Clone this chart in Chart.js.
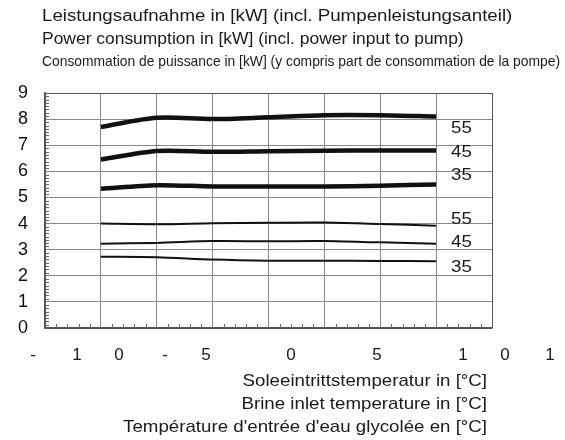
<!DOCTYPE html>
<html>
<head>
<meta charset="utf-8">
<script src="https://cdn.jsdelivr.net/npm/chart.js@4.4.0/dist/chart.umd.min.js"></script>
<style>
  html, body { margin: 0; padding: 0; background: #fff; }
  #wrap { width: 565px; height: 440px; }
</style>
</head>
<body>
<div id="wrap"><canvas id="powerChart" width="565" height="440"></canvas></div>
<script>
// brine inlet temperature [°C]
const temps = [-15, -10, -5, 0, 5, 10, 15];

// upper group (thick lines)
const upper55 = [7.70, 8.05, 8.00, 8.07, 8.15, 8.15, 8.10];
const upper45 = [6.45, 6.78, 6.75, 6.77, 6.79, 6.80, 6.80];
const upper35 = [5.33, 5.47, 5.42, 5.42, 5.42, 5.45, 5.50];

// lower group (thin lines)
const lower55 = [4.00, 3.97, 4.01, 4.03, 4.04, 3.98, 3.92];
const lower45 = [3.23, 3.26, 3.33, 3.32, 3.33, 3.28, 3.23];
const lower35 = [2.73, 2.71, 2.62, 2.58, 2.58, 2.57, 2.56];

const seriesNames = ['55', '45', '35', '55', '45', '35'];

// the x tick labels come out split into single characters in the original
const xTickChars = ['-', '1', '0', '-', '5', '0', '5', '1', '0', '1'];

const titleLines = [
    'Leistungsaufnahme in [kW] (incl. Pumpenleistungsanteil)',
    'Power consumption in [kW] (incl. power input to pump)',
    'Consommation de puissance in [kW] (y compris part de consommation de la pompe)'
];
const xTitleLines = [
    'Soleeintrittstemperatur in [°C]',
    'Brine inlet temperature in [°C]',
    'Température d\'entrée d\'eau glycolée en [°C]'
];

function toPoints(values) {
    return values.map((v, i) => ({ x: temps[i], y: v }));
}

function line(values, width) {
    return {
        data: toPoints(values),
        borderColor: '#111',
        backgroundColor: '#111',
        borderWidth: width,
        pointRadius: 0,
        tension: 0.3,
        fill: false
    };
}

const FONT = '"Liberation Sans", Arial, sans-serif';
const STRETCH = 1.1; // the original lettering is a bit wide

// draws text stretched horizontally, x is the left or right anchor
function wideText(c, text, x, y, align, sx) {
    const w = c.measureText(text).width * sx;
    const left = align === 'right' ? x - w : x;
    c.save();
    c.textAlign = 'left';
    c.translate(left, y);
    c.scale(sx, 1);
    c.fillText(text, 0, 0);
    c.restore();
}

const textPlugin = {
    id: 'texts',
    afterDraw(chart) {
        const c = chart.ctx;
        const xs = chart.scales.x;
        const ys = chart.scales.y;
        const area = chart.chartArea;
        c.save();

        // minor ticks on the axes
        c.strokeStyle = '#666';
        c.lineWidth = 1;
        c.beginPath();
        for (let v = -20; v <= 20; v++) {
            if (v % 5 === 0) continue;
            const px = Math.round(xs.getPixelForValue(v)) + 0.5;
            c.moveTo(px, area.bottom);
            c.lineTo(px, area.bottom - 4);
        }
        for (let v = 0; v <= 9; v += 0.125) {
            if (Math.abs(v - Math.round(v)) < 0.001) continue;
            const py = Math.round(ys.getPixelForValue(v)) + 0.5;
            c.moveTo(area.left, py);
            c.lineTo(area.left + 4, py);
        }
        c.stroke();

        // title block
        c.fillStyle = '#1a1a1a';
        c.textBaseline = 'middle';
        c.font = '16px ' + FONT;
        wideText(c, titleLines[0], 42, 17, 'left', 1.17);
        wideText(c, titleLines[1], 42, 40, 'left', 1.09);
        c.font = '15px "Liberation Sans Narrow", ' + FONT;
        c.textAlign = 'left';
        c.fillText(titleLines[2], 42, 62, 518);

        // split x tick characters
        c.font = '17px ' + FONT;
        c.textAlign = 'center';
        const charX = [33, 77, 119, 165, 206, 291, 377, 463, 505, 550];
        xTickChars.forEach((ch, i) => c.fillText(ch, charX[i], 355));

        // x axis title, right aligned
        xTitleLines.forEach((t, i) => wideText(c, t, 487, 381 + i * 23, 'right', STRETCH));

        // curve labels
        const labelY = [7.66, 6.74, 5.86, 4.18, 3.30, 2.34];
        seriesNames.forEach((n, i) => {
            wideText(c, n, 451, ys.getPixelForValue(labelY[i]), 'left', STRETCH);
        });

        c.restore();
    }
};

function edgeColor(ctx, lastValue) {
    const v = ctx.tick.value;
    return (v === 0 || v === lastValue) ? '#555' : '#888';
}

new Chart(document.getElementById('powerChart').getContext('2d'), {
    type: 'line',
    data: {
        datasets: [
            line(upper55, 4.5),
            line(upper45, 4.5),
            line(upper35, 4.5),
            line(lower55, 2),
            line(lower45, 2),
            line(lower35, 2)
        ]
    },
    options: {
        responsive: false,
        animation: false,
        layout: { padding: { left: 0, top: 93, right: 73, bottom: 0 } },
        plugins: {
            legend: { display: false },
            tooltip: { enabled: false }
        },
        scales: {
            x: {
                type: 'linear',
                min: -20,
                max: 20,
                ticks: { stepSize: 5, display: false },
                grid: {
                    drawTicks: false,
                    lineWidth: 1,
                    color: (ctx) => (ctx.tick.value === -20 || ctx.tick.value === 20) ? '#555' : '#888'
                },
                border: { display: true, color: '#555', width: 1.5 },
                afterFit: (scale) => { scale.height = 112; }
            },
            y: {
                min: 0,
                max: 9,
                ticks: {
                    stepSize: 1,
                    padding: 17,
                    color: '#111',
                    font: { size: 18, family: FONT }
                },
                grid: {
                    drawTicks: false,
                    lineWidth: 1,
                    color: (ctx) => edgeColor(ctx, 9)
                },
                border: { display: true, color: '#555', width: 1.5 },
                afterFit: (scale) => { scale.width = 45; }
            }
        }
    },
    plugins: [textPlugin]
});
</script>
</body>
</html>
